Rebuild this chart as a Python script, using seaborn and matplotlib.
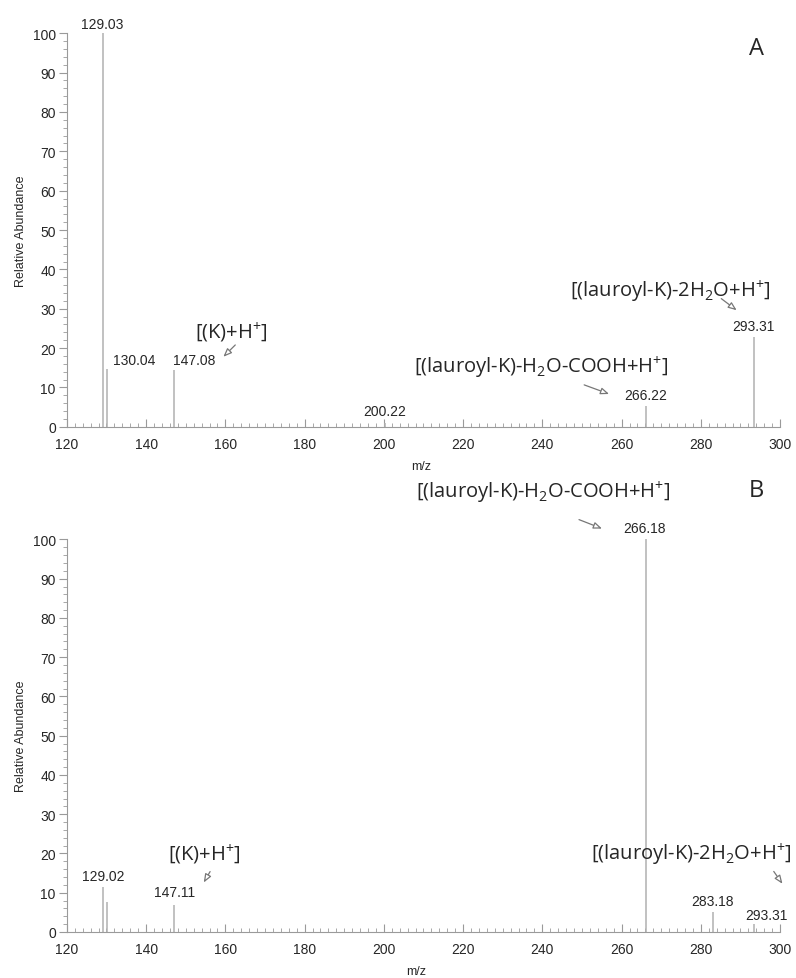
import numpy as np
import seaborn as sns
import matplotlib.pyplot as plt
from matplotlib.ticker import MultipleLocator

# 质谱峰数据 (m/z, 相对丰度)
mz_a = [129.03, 130.04, 147.08, 200.22, 266.22, 293.31]
ab_a = [100, 14.7, 14.5, 1.0, 5.4, 22.8]
mz_b = [129.02, 130.03, 147.11, 266.18, 283.18, 293.31]
ab_b = [11.5, 7.6, 7.0, 100, 5.0, 2.0]

# 峰标签 (文本, x, y)
labels_a = [("129.03", 129.0, 100.6), ("130.04", 137.1, 15.2), ("147.08", 152.2, 15.2),
            ("200.22", 200.3, 2.2), ("266.22", 266.1, 6.3), ("293.31", 293.4, 23.8)]
labels_b = [("129.02", 129.1, 12.5), ("147.11", 147.2, 8.4), ("266.18", 265.9, 101.0),
            ("283.18", 283.0, 6.1), ("293.31", 296.6, 2.6)]

K = r"[(K)+H$^{+}$]"
L1 = r"[(lauroyl-K)-H$_{2}$O-COOH+H$^{+}$]"
L2 = r"[(lauroyl-K)-2H$_{2}$O+H$^{+}$]"
# 注释 (文本, 文字位置, 箭头起点, 箭头终点)
notes_a = [(K, (161.5, 24.1), (163.0, 21.3), (159.0, 17.3)),
           (L1, (239.7, 15.2), (249.9, 10.9), (257.5, 8.1)),
           (L2, (272.4, 34.5), (284.6, 33.0), (289.6, 29.2))]
notes_b = [(K, (154.7, 19.8), (156.5, 16.0), (154.2, 12.0)),
           (L1, (240.3, 112.0), (248.6, 105.3), (255.7, 102.5)),
           (L2, (277.5, 19.8), (298.0, 16.0), (301.0, 11.7))]

sns.set_style("ticks")
plt.rcParams["font.family"] = ["Liberation Sans", "DejaVu Sans"]
plt.rcParams["mathtext.fontset"] = "custom"
plt.rcParams["mathtext.rm"] = "Open Sans"
plt.rcParams["mathtext.it"] = "Open Sans"

fig = plt.figure(figsize=(7.96, 9.79), dpi=100)
ax_a = fig.add_axes([0.084, 0.563, 0.896, 0.402])
ax_b = fig.add_axes([0.084, 0.047, 0.896, 0.401])

gray = "#9a9a9a"
for ax, mz, ab, labels, notes, tag, tag_y, lab_x in [
    (ax_a, mz_a, ab_a, labels_a, notes_a, "A", 0.962, 0.497),
    (ax_b, mz_b, ab_b, labels_b, notes_b, "B", 1.125, 0.49),
]:
    ax.vlines(mz, 0, ab, color="#b0b0b0", lw=1.1)
    ax.set_xlim(120, 300)
    ax.set_ylim(0, 100)
    sns.despine(ax=ax)
    for s in ["left", "bottom"]:
        ax.spines[s].set_color(gray)
        ax.spines[s].set_linewidth(0.8)
    ax.xaxis.set_major_locator(MultipleLocator(20))
    ax.xaxis.set_minor_locator(MultipleLocator(2))
    ax.yaxis.set_major_locator(MultipleLocator(10))
    ax.yaxis.set_minor_locator(MultipleLocator(2))
    ax.tick_params(axis="x", which="both", direction="in", color=gray, labelsize=10, pad=7)
    ax.tick_params(axis="x", which="major", length=6, width=0.8)
    ax.tick_params(axis="x", which="minor", length=3, width=0.6)
    ax.tick_params(axis="y", which="both", direction="out", color=gray, labelsize=10, pad=2)
    ax.tick_params(axis="y", which="major", length=6, width=0.8)
    ax.tick_params(axis="y", which="minor", length=3, width=0.6)
    ax.set_xlabel("m/z", fontsize=9)
    ax.set_ylabel("Relative Abundance", fontsize=9, labelpad=4)
    for txt, x, y in labels:
        ax.text(x, y, txt, ha="center", va="bottom", fontsize=10, clip_on=False)
    for txt, pos, start, end in notes:
        ax.text(pos[0], pos[1], txt, ha="center", va="center", fontsize=14.5,
                family="Open Sans", clip_on=False)
        ax.annotate("", xy=end, xytext=start, annotation_clip=False,
                    arrowprops=dict(arrowstyle="-|>,head_length=0.5,head_width=0.2",
                                    color="#777777", fc="white", lw=0.9))
    ax.text(0.967, tag_y, tag, transform=ax.transAxes, ha="center", va="center",
            fontsize=17, family="Open Sans")
    ax.xaxis.set_label_coords(lab_x, -0.085)

fig.savefig("out.png", dpi=100)
